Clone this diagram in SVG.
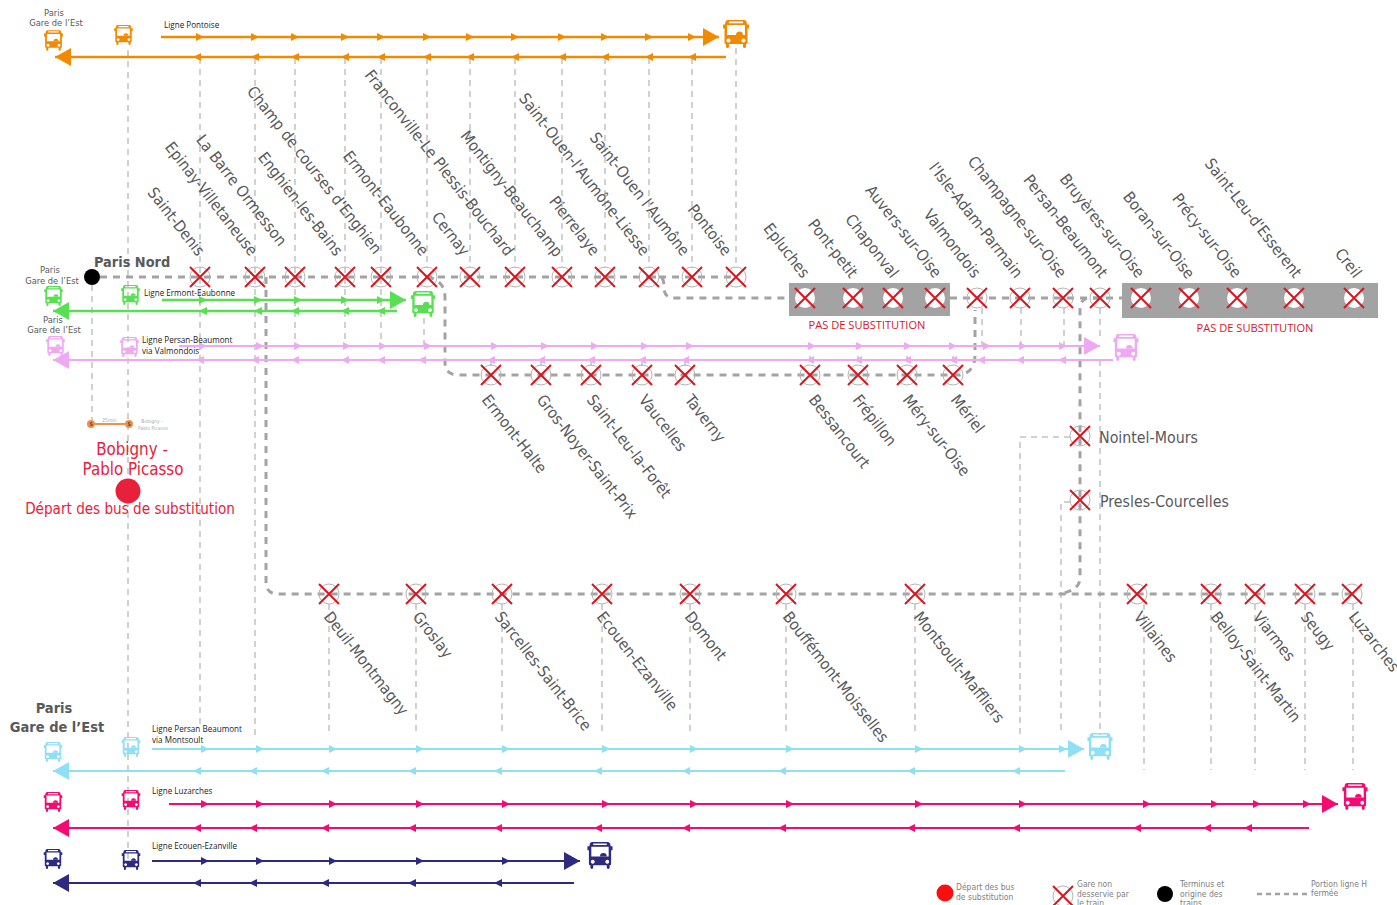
<svg xmlns="http://www.w3.org/2000/svg" width="1397" height="905" viewBox="0 0 1397 905">
<style>
text{font-family:"DejaVu Sans Condensed","DejaVu Sans",sans-serif}
.st{font-size:15.800px;fill:#58595b}
.e{text-anchor:end}
.cap{font-size:9.300px;fill:#58595b;text-anchor:middle}
.ln{font-family:"Open Sans","Liberation Sans",sans-serif;font-size:8.100px;fill:#222}
.thin{stroke:#a3a3a3;stroke-width:1;stroke-dasharray:6 5;fill:none}
.thick{stroke:#a3a3a3;stroke-width:3;stroke-dasharray:7 6;fill:none}
.pas{font-family:"Open Sans","Liberation Sans",sans-serif;font-size:11.100px;fill:#d7161f;text-anchor:middle}
.leg{font-size:8.500px;fill:#808080}
.or{stroke:#f18a00;fill:none;stroke-width:2.500}
.gr{stroke:#58e053;fill:none;stroke-width:2.500}
.pk{stroke:#efa8f2;fill:none;stroke-width:2.200}
.bl{stroke:#8fdff5;fill:none;stroke-width:2.200}
.mg{stroke:#f40a70;fill:none;stroke-width:2.200}
.nv{stroke:#2e2a7f;fill:none;stroke-width:2.200}
</style>
<defs>
<symbol id="bus" viewBox="0 0 26 28" overflow="visible">
<path fill="currentColor" fill-rule="evenodd" d="M5 0H21Q23.500 0 23.800 3L24 4.500H26V8.500H24.500V23Q24.500 24 23 24V26.500Q23 28 21.500 28Q20 28 20 26.500V24H6V26.500Q6 28 4.500 28Q3 28 3 26.500V24Q1.500 24 1.500 23V8.500H0V4.500H2L2.200 3Q2.500 0 5 0ZM4 5V15H22V5ZM6 1.500V3.200H20V1.500ZM5.500 18.500A2 2 0 1 0 5.510 18.500ZM20.500 18.500A2 2 0 1 0 20.510 18.500Z"/>
<path fill="currentColor" d="M13 15A3.500 3.500 0 0 1 20 15Z"/>
</symbol>
<g id="x"><circle r="10" fill="none" stroke="#b5b5b5"/><path d="M-10-10L10 10M10-10L-10 10" stroke="#d7161f" stroke-width="2" fill="none"/></g>
<g id="xw"><circle r="10" fill="#fff"/><path d="M-10-10L10 10M10-10L-10 10" stroke="#d7161f" stroke-width="2" fill="none"/></g>
<marker id="s-or" viewBox="0 0 8 8" refX="4" refY="4" markerWidth="8" markerHeight="8" markerUnits="userSpaceOnUse" orient="auto"><path d="M0 0L8 4L0 8Z" fill="#f18a00"/></marker>
<marker id="b-or" viewBox="0 0 16 18" refX="16" refY="9" markerWidth="16" markerHeight="18" markerUnits="userSpaceOnUse" orient="auto"><path d="M0 0L16 9L0 18Z" fill="#f18a00"/></marker>
<marker id="s-gr" viewBox="0 0 8 8" refX="4" refY="4" markerWidth="8" markerHeight="8" markerUnits="userSpaceOnUse" orient="auto"><path d="M0 0L8 4L0 8Z" fill="#58e053"/></marker>
<marker id="b-gr" viewBox="0 0 16 18" refX="16" refY="9" markerWidth="16" markerHeight="18" markerUnits="userSpaceOnUse" orient="auto"><path d="M0 0L16 9L0 18Z" fill="#58e053"/></marker>
<marker id="s-pk" viewBox="0 0 8 8" refX="4" refY="4" markerWidth="8" markerHeight="8" markerUnits="userSpaceOnUse" orient="auto"><path d="M0 0L8 4L0 8Z" fill="#efa8f2"/></marker>
<marker id="b-pk" viewBox="0 0 16 18" refX="16" refY="9" markerWidth="16" markerHeight="18" markerUnits="userSpaceOnUse" orient="auto"><path d="M0 0L16 9L0 18Z" fill="#efa8f2"/></marker>
<marker id="s-bl" viewBox="0 0 8 8" refX="4" refY="4" markerWidth="8" markerHeight="8" markerUnits="userSpaceOnUse" orient="auto"><path d="M0 0L8 4L0 8Z" fill="#8fdff5"/></marker>
<marker id="b-bl" viewBox="0 0 16 18" refX="16" refY="9" markerWidth="16" markerHeight="18" markerUnits="userSpaceOnUse" orient="auto"><path d="M0 0L16 9L0 18Z" fill="#8fdff5"/></marker>
<marker id="s-mg" viewBox="0 0 8 8" refX="4" refY="4" markerWidth="8" markerHeight="8" markerUnits="userSpaceOnUse" orient="auto"><path d="M0 0L8 4L0 8Z" fill="#f40a70"/></marker>
<marker id="b-mg" viewBox="0 0 16 18" refX="16" refY="9" markerWidth="16" markerHeight="18" markerUnits="userSpaceOnUse" orient="auto"><path d="M0 0L16 9L0 18Z" fill="#f40a70"/></marker>
<marker id="s-nv" viewBox="0 0 8 8" refX="4" refY="4" markerWidth="8" markerHeight="8" markerUnits="userSpaceOnUse" orient="auto"><path d="M0 0L8 4L0 8Z" fill="#2e2a7f"/></marker>
<marker id="b-nv" viewBox="0 0 16 18" refX="16" refY="9" markerWidth="16" markerHeight="18" markerUnits="userSpaceOnUse" orient="auto"><path d="M0 0L16 9L0 18Z" fill="#2e2a7f"/></marker>
</defs>
<rect width="1397" height="905" fill="#fff"/>
<rect x="789" y="283" width="161" height="33" fill="#a3a3a3"/>
<rect x="1122" y="283" width="256" height="35" fill="#a3a3a3"/>
<g id="connectors">
<g id="feeders">
<path class="thin" d="M128 50V860M92 285V425M200 58V727M255 58V735M295 58V346M345 58V346M381 58V346M427 58V268M424 318V346M470 58V268M515 58V268M562 58V268M605 58V268M649 58V268M692 58V268M736 48V268"/>
<path class="thin" d="M491 360V366M541 360V366M591 360V366M642 360V366M685 360V366M810 356V366M858 356V366M907 356V366M953 356V366M982 308V346M1021 308V346M1064 308V346M1100 308V340M1100 360V735"/>
<path class="thin" d="M329 604V735M416 604V735M502 604V735M602 604V735M690 604V735M786 604V735M915 604V735M1144 604V770M1211 604V770M1255 604V770M1305 604V770M1353 604V770"/>
<path class="thin" d="M1070 437H1020V735M1070 502H1061V735"/>
</g>
<g id="closed-line">
<path class="thick" d="M100 277H736"/>
<path class="thick" d="M266 277V582Q266 594 278 594H1352"/>
<path class="thick" d="M649 277H660Q664 277 664 288Q664 298 675 298H789M950 298H1122"/>
<path class="thick" d="M427 277Q445 280 445 298V362Q445 375 458 375H960Q975 372 975 355V310"/>
<path class="thick" d="M1100 298H1090Q1080 298 1080 310V578Q1080 590 1060 594"/>
</g>
<g id="lines">
<path class="or" marker-mid="url(#s-or)" marker-end="url(#b-or)" d="M161 37L200 37L255 37L295 37L345 37L381 37L427 37L470 37L515 37L562 37L605 37L649 37L692 37L719 37"/>
<path class="or" marker-mid="url(#s-or)" marker-end="url(#b-or)" d="M726 57L692 57L649 57L605 57L562 57L515 57L470 57L427 57L381 57L345 57L295 57L255 57L197 57L55 57"/>
<path class="gr" marker-mid="url(#s-gr)" marker-end="url(#b-gr)" d="M162 300L203 300L258 300L298 300L345 300L381 300L406 300"/>
<path class="gr" marker-mid="url(#s-gr)" marker-end="url(#b-gr)" d="M397 311L381 311L345 311L295 311L258 311L203 311L53 311"/>
<path class="pk" marker-mid="url(#s-pk)" marker-end="url(#b-pk)" d="M179 346L203 346L260 346L298 346L347 346L383 346L428 346L495 346L545 346L595 346L645 346L690 346L812 346L860 346L908 346L953 346L987 346L1023 346L1063 346L1100 346"/>
<path class="pk" marker-mid="url(#s-pk)" marker-end="url(#b-pk)" d="M1113 360L1062 360L1020 360L981 360L953 360L907 360L858 360L810 360L685 360L642 360L591 360L541 360L491 360L422 360L381 360L345 360L295 360L255 360L200 360L53 360"/>
<path class="bl" marker-mid="url(#s-bl)" marker-end="url(#b-bl)" d="M152 749L205 749L260 749L333 749L420 749L506 749L606 749L694 749L790 749L919 749L1023 749L1063 749L1084 749"/>
<path class="bl" marker-mid="url(#s-bl)" marker-end="url(#b-bl)" d="M1065 771L1016 771L911 771L782 771L686 771L598 771L498 771L412 771L325 771L253 771L197 771L53 771"/>
<path class="mg" marker-mid="url(#s-mg)" marker-end="url(#b-mg)" d="M169 804L205 804L260 804L333 804L420 804L506 804L606 804L694 804L790 804L919 804L1023 804L1147 804L1215 804L1257 804L1307 804L1338 804"/>
<path class="mg" marker-mid="url(#s-mg)" marker-end="url(#b-mg)" d="M1309 828L1248 828L1207 828L1137 828L1016 828L911 828L782 828L686 828L598 828L498 828L412 828L325 828L253 828L197 828L53 828"/>
<path class="nv" marker-mid="url(#s-nv)" marker-end="url(#b-nv)" d="M152 861L205 861L260 861L333 861L420 861L506 861L580 861"/>
<path class="nv" marker-mid="url(#s-nv)" marker-end="url(#b-nv)" d="M574 883L498 883L412 883L325 883L253 883L197 883L53 883"/>
</g>
</g>
<g id="bus-nodes">
<use id="bus-orange-1" href="#bus" x="44" y="30" width="19" height="21" color="#f18a00"/>
<use id="bus-orange-2" href="#bus" x="114" y="25" width="19" height="20" color="#f18a00"/>
<use id="bus-orange-3" href="#bus" x="723" y="20" width="26" height="28" color="#f18a00"/>
<use id="bus-green-1" href="#bus" x="44" y="286" width="19" height="20" color="#58e053"/>
<use id="bus-green-2" href="#bus" x="121" y="285" width="19" height="20" color="#58e053"/>
<use id="bus-green-3" href="#bus" x="410" y="291" width="26" height="26" color="#58e053"/>
<use id="bus-pink-1" href="#bus" x="46" y="336" width="19" height="20" color="#efa8f2"/>
<use id="bus-pink-2" href="#bus" x="120" y="337" width="19" height="20" color="#efa8f2"/>
<use id="bus-pink-3" href="#bus" x="1113" y="334" width="26" height="27" color="#efa8f2"/>
<use id="bus-blue-1" href="#bus" x="43" y="742" width="20" height="20" color="#8fdff5"/>
<use id="bus-blue-2" href="#bus" x="121" y="737" width="20" height="20" color="#8fdff5"/>
<use id="bus-blue-3" href="#bus" x="1087" y="733" width="26" height="27" color="#8fdff5"/>
<use id="bus-mag-1" href="#bus" x="43" y="792" width="20" height="20" color="#f40a70"/>
<use id="bus-mag-2" href="#bus" x="121" y="790" width="20" height="20" color="#f40a70"/>
<use id="bus-mag-3" href="#bus" x="1342" y="783" width="26" height="27" color="#f40a70"/>
<use id="bus-navy-1" href="#bus" x="43" y="849" width="20" height="20" color="#2e2a7f"/>
<use id="bus-navy-2" href="#bus" x="121" y="850" width="20" height="20" color="#2e2a7f"/>
<use id="bus-navy-3" href="#bus" x="587" y="842" width="26" height="27" color="#2e2a7f"/>
</g>
<g id="station-labels">
<g class="st e">
<text transform="translate(197,257) rotate(52)">Saint-Denis</text>
<text transform="translate(250,257) rotate(52)">Epinay-Villetaneuse</text>
<text transform="translate(279,247) rotate(52)">La Barre Ormesson</text>
<text transform="translate(335,257) rotate(52)">Enghien-les-Bains</text>
<text transform="translate(374,255) rotate(52)">Champ de courses d'Enghien</text>
<text transform="translate(421,257) rotate(52)">Ermont-Eaubonne</text>
<text transform="translate(462,257) rotate(52)">Cernay</text>
<text transform="translate(506,257) rotate(52)">Franconville-Le Plessis-Bouchard</text>
<text transform="translate(555,258) rotate(52)">Montigny-Beauchamp</text>
<text transform="translate(592,257) rotate(52)">Pierrelaye</text>
<text transform="translate(642,257) rotate(52)">Saint-Ouen-l'Aumône-Liesse</text>
<text transform="translate(682,257) rotate(52)">Saint-Ouen l'Aumône</text>
<text transform="translate(724,257) rotate(52)">Pontoise</text>
<text transform="translate(802,279) rotate(52)">Epluches</text>
<text transform="translate(850,279) rotate(52)">Pont-petit</text>
<text transform="translate(891,279) rotate(52)">Chaponval</text>
<text transform="translate(934,279) rotate(52)">Auvers-sur-Oise</text>
<text transform="translate(973,279) rotate(52)">Valmondois</text>
<text transform="translate(1015,279) rotate(52)">l'Isle-Adam-Parmain</text>
<text transform="translate(1059,279) rotate(52)">Champagne-sur-Oise</text>
<text transform="translate(1100,279) rotate(52)">Persan-Beaumont</text>
<text transform="translate(1137,279) rotate(52)">Bruyères-sur-Oise</text>
<text transform="translate(1187,280) rotate(52)">Boran-sur-Oise</text>
<text transform="translate(1234,279) rotate(52)">Précy-sur-Oise</text>
<text transform="translate(1294,279) rotate(52)">Saint-Leu-d'Esserent</text>
<text transform="translate(1354,279) rotate(52)">Creil</text>
</g>
<g class="st">
<text transform="translate(481,400) rotate(52)">Ermont-Halte</text>
<text transform="translate(536,400) rotate(52)">Gros-Noyer-Saint-Prix</text>
<text transform="translate(586,400) rotate(52)">Saint-Leu-la-Forêt</text>
<text transform="translate(638,400) rotate(52)">Vaucelles</text>
<text transform="translate(684,400) rotate(52)">Taverny</text>
<text transform="translate(808,400) rotate(52)">Bessancourt</text>
<text transform="translate(852,400) rotate(52)">Frépillon</text>
<text transform="translate(902,400) rotate(52)">Méry-sur-Oise</text>
<text transform="translate(950,400) rotate(52)">Mériel</text>
<text transform="translate(323,617) rotate(52)">Deuil-Montmagny</text>
<text transform="translate(412,617) rotate(52)">Groslay</text>
<text transform="translate(494,617) rotate(52)">Sarcelles-Saint-Brice</text>
<text transform="translate(596,617) rotate(52)">Ecouen-Ezanville</text>
<text transform="translate(684,617) rotate(52)">Domont</text>
<text transform="translate(782,617) rotate(52)">Bouffémont-Moisselles</text>
<text transform="translate(913,617) rotate(52)">Montsoult-Maffliers</text>
<text transform="translate(1133,617) rotate(52)">Villaines</text>
<text transform="translate(1210,617) rotate(52)">Belloy-Saint-Martin</text>
<text transform="translate(1252,617) rotate(52)">Viarmes</text>
<text transform="translate(1300,617) rotate(52)">Seugy</text>
<text transform="translate(1348,617) rotate(52)">Luzarches</text>
<text x="1099" y="443">Nointel-Mours</text>
<text x="1100" y="507">Presles-Courcelles</text>
</g>
</g>
<g id="stations">
<use href="#x" x="200" y="277"/><use href="#x" x="255" y="277"/><use href="#x" x="295" y="277"/><use href="#x" x="345" y="277"/><use href="#x" x="381" y="277"/><use href="#x" x="427" y="277"/><use href="#x" x="470" y="277"/><use href="#x" x="515" y="277"/><use href="#x" x="562" y="277"/><use href="#x" x="605" y="277"/><use href="#x" x="649" y="277"/><use href="#x" x="692" y="277"/><use href="#x" x="736" y="277"/>
<use href="#xw" x="805" y="298"/><use href="#xw" x="853" y="298"/><use href="#xw" x="893" y="298"/><use href="#xw" x="935" y="298"/>
<use href="#x" x="977" y="298"/><use href="#x" x="1020" y="298"/><use href="#x" x="1063" y="298"/><use href="#x" x="1100" y="298"/>
<use href="#xw" x="1141" y="298"/><use href="#xw" x="1189" y="298"/><use href="#xw" x="1237" y="298"/><use href="#xw" x="1294" y="298"/><use href="#xw" x="1354" y="298"/>
<use href="#x" x="491" y="375"/><use href="#x" x="541" y="375"/><use href="#x" x="591" y="375"/><use href="#x" x="642" y="375"/><use href="#x" x="685" y="375"/><use href="#x" x="810" y="375"/><use href="#x" x="858" y="375"/><use href="#x" x="907" y="375"/><use href="#x" x="953" y="375"/>
<use href="#x" x="1080" y="436"/><use href="#x" x="1080" y="500"/>
<use href="#x" x="329" y="594"/><use href="#x" x="416" y="594"/><use href="#x" x="502" y="594"/><use href="#x" x="602" y="594"/><use href="#x" x="690" y="594"/><use href="#x" x="786" y="594"/><use href="#x" x="915" y="594"/><use href="#x" x="1137" y="594"/><use href="#x" x="1211" y="594"/><use href="#x" x="1255" y="594"/><use href="#x" x="1305" y="594"/><use href="#x" x="1352" y="594"/>
</g>
<g id="paris-nord">
<circle cx="92" cy="277" r="8" fill="#000"/>
<text x="94" y="267" font-size="14.400" font-weight="bold" fill="#58595b">Paris Nord</text>
</g>
<g id="labels">
<text class="cap"><tspan x="54" y="16">Paris</tspan><tspan x="56" y="26">Gare de l’Est</tspan></text>
<text class="cap"><tspan x="50" y="273">Paris</tspan><tspan x="52" y="284">Gare de l’Est</tspan></text>
<text class="cap"><tspan x="53" y="323">Paris</tspan><tspan x="54" y="333">Gare de l’Est</tspan></text>
<text font-size="14.500" font-weight="bold" fill="#58595b" text-anchor="middle"><tspan x="54" y="713">Paris</tspan><tspan x="57" y="732">Gare de l’Est</tspan></text>
<text class="ln" x="164" y="28">Ligne Pontoise</text>
<text class="ln" x="144" y="296">Ligne Ermont-Eaubonne</text>
<text class="ln"><tspan x="142" y="343">Ligne Persan-Beaumont</tspan><tspan x="142" y="354">via Valmondois</tspan></text>
<text class="ln"><tspan x="152" y="732">Ligne Persan Beaumont</tspan><tspan x="152" y="743">via Montsoult</tspan></text>
<text class="ln" x="152" y="794">Ligne Luzarches</text>
<text class="ln" x="152" y="849">Ligne Ecouen-Ezanville</text>
<text class="pas" x="867" y="329">PAS DE SUBSTITUTION</text>
<text class="pas" x="1255" y="332">PAS DE SUBSTITUTION</text>
</g>
<g id="bobigny">
<path d="M91 424H129" stroke="#f0914a" stroke-width="2"/>
<circle cx="91" cy="424" r="4" fill="#f0914a"/><circle cx="129" cy="424" r="4" fill="#f0914a"/>
<text font-size="5" font-weight="bold" fill="#444" text-anchor="middle"><tspan x="91" y="426">S</tspan><tspan x="129" y="426">S</tspan></text>
<text x="110" y="422" font-size="5" fill="#aaa" text-anchor="middle">25min.</text>
<text font-size="5" fill="#aaa" text-anchor="middle"><tspan x="152" y="423">Bobigny -</tspan><tspan x="153" y="430">Pablo Picasso</tspan></text>
<text font-size="16.800" fill="#e8213a" text-anchor="middle"><tspan x="132" y="455">Bobigny -</tspan><tspan x="133" y="475">Pablo Picasso</tspan></text>
<circle cx="128" cy="491" r="12.500" fill="#e8213a"/>
<text x="130" y="514" font-size="15.100" fill="#e8213a" text-anchor="middle">Départ des bus de substitution</text>
</g>
<g id="legend">
<circle cx="945" cy="893" r="8.500" fill="#f90f0f"/>
<text class="leg"><tspan x="956" y="890">Départ des bus</tspan><tspan x="956" y="900">de substitution</tspan></text>
<use href="#x" x="1063" y="896"/>
<text class="leg"><tspan x="1077" y="887">Gare non</tspan><tspan x="1077" y="897">desservie par</tspan><tspan x="1077" y="906">le train</tspan></text>
<circle cx="1165" cy="894" r="8" fill="#000"/>
<text class="leg"><tspan x="1180" y="887">Terminus et</tspan><tspan x="1180" y="897">origine des</tspan><tspan x="1180" y="906">trains</tspan></text>
<path d="M1257 894H1307" stroke="#a3a3a3" stroke-width="2.500" stroke-dasharray="5 4"/>
<text class="leg"><tspan x="1311" y="887">Portion ligne H</tspan><tspan x="1311" y="896">fermée</tspan></text>
</g>
</svg>
